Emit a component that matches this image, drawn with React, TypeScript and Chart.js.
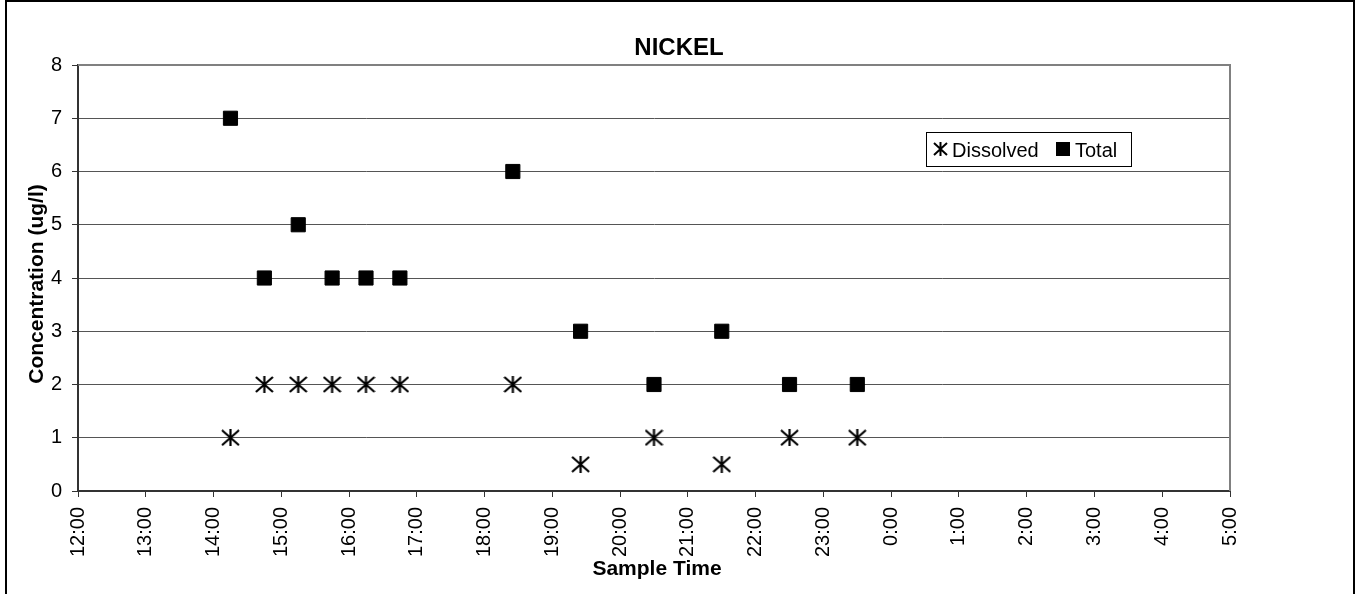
import React, { useEffect, useRef } from "react";
import { Chart, registerables } from "chart.js";

Chart.register(...registerables);

const sampleTimes = ["14:15", "14:45", "15:15", "15:45", "16:15", "16:45", "18:25", "19:25", "20:30", "21:30", "22:30", "23:30"];
const dissolved = [1, 2, 2, 2, 2, 2, 2, 0.5, 1, 0.5, 1, 1];
const total = [7, 4, 5, 4, 4, 4, 6, 3, 2, 3, 2, 2];
const xMinHour = 12;
const xMaxHour = 29;
const yTicksMax = 8;
const chartTitle = "NICKEL";
const xTitle = "Sample Time";
const yTitle = "Concentration (ug/l)";
const seriesNames = ["Dissolved", "Total"];

const FONT = "'Liberation Sans', Arial, sans-serif";

function toHours(t: string): number {
  const [h, m] = t.split(":").map(Number);
  let v = h + m / 60;
  if (v < xMinHour) v += 24;
  return v;
}

function makeAsterisk(w: number, h: number, lw: number): HTMLCanvasElement {
  const c = document.createElement("canvas");
  c.width = w;
  c.height = h;
  const ctx = c.getContext("2d")!;
  ctx.strokeStyle = "#000";
  ctx.lineWidth = lw;
  ctx.lineCap = "butt";
  ctx.beginPath();
  ctx.moveTo(1, 1);
  ctx.lineTo(w - 1, h - 1);
  ctx.moveTo(w - 1, 1);
  ctx.lineTo(1, h - 1);
  ctx.moveTo(w / 2, 0);
  ctx.lineTo(w / 2, h);
  ctx.stroke();
  return c;
}

export default function App() {
  const ref = useRef<HTMLCanvasElement | null>(null);

  useEffect(() => {
    if (!ref.current) return;
    const star = makeAsterisk(19, 17, 2.2);
    const legendStar = makeAsterisk(15, 14, 2);

    const decor = {
      id: "decor",
      afterDraw(chart: any) {
        const ctx = chart.ctx;
        const a = chart.chartArea;
        ctx.save();
        // plot area top/right border
        ctx.strokeStyle = "#808080";
        ctx.lineWidth = 2;
        ctx.beginPath();
        ctx.moveTo(a.left, a.top);
        ctx.lineTo(a.right, a.top);
        ctx.lineTo(a.right, a.bottom);
        ctx.stroke();

        ctx.fillStyle = "#000";
        // title
        ctx.font = `bold 24px ${FONT}`;
        ctx.textAlign = "center";
        ctx.textBaseline = "alphabetic";
        ctx.fillText(chartTitle, 679, 55);
        // x title
        ctx.font = `bold 21px ${FONT}`;
        ctx.fillText(xTitle, (a.left + a.right) / 2 + 3, 575);
        // y title
        ctx.save();
        ctx.translate(43, 284);
        ctx.rotate(-Math.PI / 2);
        ctx.fillText(yTitle, 0, 0);
        ctx.restore();

        // legend
        ctx.strokeStyle = "#000";
        ctx.lineWidth = 1;
        ctx.strokeRect(926.5, 132.5, 205, 34);
        ctx.drawImage(legendStar, 933, 142, 15, 14);
        ctx.font = `20px ${FONT}`;
        ctx.textAlign = "left";
        ctx.fillText(chart.data.datasets[0].label, 952, 157);
        ctx.fillRect(1056, 142, 14, 14);
        ctx.fillText(chart.data.datasets[1].label, 1075, 157);
        ctx.restore();
      },
    };

    const chart = new Chart(ref.current, {
      type: "scatter",
      data: {
        datasets: [
          {
            label: seriesNames[0],
            data: sampleTimes.map((t, i) => ({ x: toHours(t), y: dissolved[i] })),
            pointStyle: star as any,
            pointRadius: 9,
            showLine: false,
          },
          {
            label: seriesNames[1],
            data: sampleTimes.map((t, i) => ({ x: toHours(t), y: total[i] })),
            pointStyle: "rect",
            pointRadius: 10,
            backgroundColor: "#000",
            borderColor: "#000",
            borderWidth: 1,
            showLine: false,
          },
        ],
      },
      plugins: [decor],
      options: {
        responsive: false,
        animation: false,
        events: [],
        layout: { padding: { top: 65, right: 125, left: 0, bottom: 0 } },
        plugins: {
          legend: { display: false },
          title: { display: false },
          tooltip: { enabled: false },
        },
        scales: {
          x: {
            type: "linear",
            min: xMinHour,
            max: xMaxHour,
            afterFit: (s: any) => {
              s.height = 103;
            },
            ticks: {
              stepSize: 1,
              autoSkip: false,
              maxRotation: 90,
              minRotation: 90,
              padding: 10,
              color: "#000",
              font: { family: FONT, size: 20 },
              callback: (v: any) => `${Number(v) % 24}:00`,
            },
            grid: {
              drawOnChartArea: false,
              drawTicks: true,
              tickLength: 6,
              color: "#333",
            },
            border: { color: "#333", width: 2 },
          },
          y: {
            min: 0,
            max: yTicksMax,
            afterFit: (s: any) => {
              s.width = 78;
            },
            ticks: {
              stepSize: 1,
              padding: 10,
              color: "#000",
              font: { family: FONT, size: 20 },
            },
            grid: {
              color: "#555",
              tickColor: "#333",
              drawTicks: true,
              tickLength: 6,
            },
            border: { color: "#333", width: 2 },
          },
        },
      },
    });
    return () => chart.destroy();
  }, []);

  return (
    <div style={{ position: "absolute", left: 0, top: 0, width: 1355, height: 594, background: "#fff" }}>
      <canvas ref={ref} width={1355} height={594} style={{ position: "absolute", left: 0, top: 0, width: 1355, height: 594 }} />
      <div
        style={{
          position: "absolute",
          left: 5,
          top: 0,
          width: 1350,
          height: 594,
          boxSizing: "border-box",
          borderTop: "2px solid #000",
          borderLeft: "2px solid #000",
          borderRight: "2px solid #000",
          pointerEvents: "none",
        }}
      />
    </div>
  );
}
